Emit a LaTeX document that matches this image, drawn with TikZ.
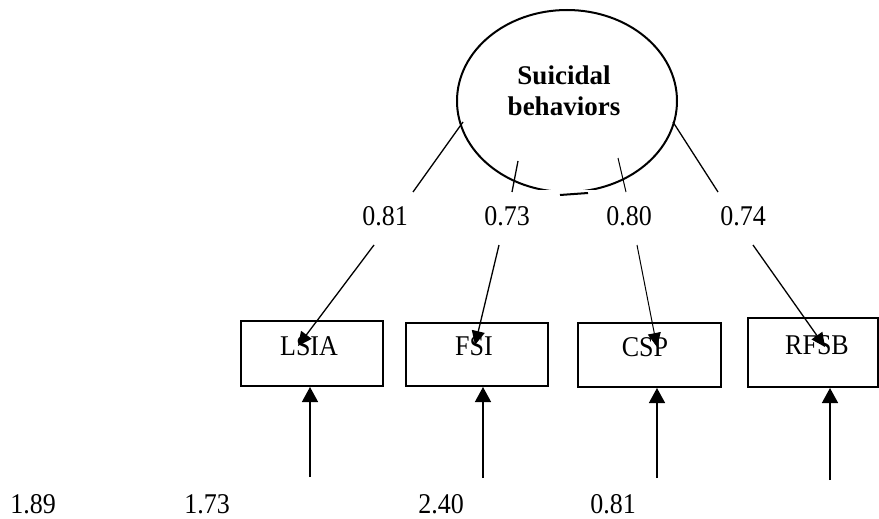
\documentclass[tikz,border=0pt]{standalone}
\usepackage{fontspec}
\setmainfont{Liberation Serif}
\usetikzlibrary{arrows.meta}
\newcommand\Tall[1]{\scalebox{1}[1.1]{#1}}

\begin{document}
\begin{tikzpicture}[x=1pt,y=-1pt,
  box/.style={draw, line width=2pt, inner sep=0pt, minimum width=142pt, minimum height=65pt},
  txt/.style={inner sep=0pt, font=\fontsize{26}{31}\selectfont},
  load/.style={line width=1.3pt},
  loadarrow/.style={line width=1.3pt, -{Triangle[length=14pt,width=13pt]}},
  errarrow/.style={line width=1.4pt, -{Triangle[length=15pt,width=16pt]}}]
\useasboundingbox (0,0) rectangle (879,519);

% latent variable
\draw [line width=2pt] (567,101) ellipse [x radius=110, y radius=91];
\node [txt, align=center, font=\fontsize{27}{31}\selectfont\bfseries] (sb) at (564,91) {Suicidal\\behaviors};

% loadings, upper parts
\coordinate (u1) at (463,122); \coordinate (v1) at (413,192);
\coordinate (u2) at (518,161); \coordinate (v2) at (512,192);
\coordinate (u3) at (618,158); \coordinate (v3) at (626,192);
\coordinate (u4) at (673,122); \coordinate (v4) at (718,192);
\draw [load] (u1) -- (v1);
\draw [load] (u2) -- (v2);
\draw [load, line width=1pt] (u3) -- (v3);
\draw [load] (u4) -- (v4);
\fill [white] (535,189.5) rectangle (597,201);
\draw [line width=2pt] (560,195) -- (588,193);

\node [txt] (k1) at (385,216) {\Tall{0.81}};
\node [txt] (k2) at (507,216) {\Tall{0.73}};
\node [txt] (k3) at (629,216) {\Tall{0.80}};
\node [txt] (k4) at (743,216) {\Tall{0.74}};

% indicators
\node [box] (lsia) at (312,353.5) {};
\node [box, minimum height=63pt] (fsi) at (477,354.5) {};
\node [box, minimum width=143pt, minimum height=64pt] (csp) at (649.5,355) {};
\node [box, minimum width=130pt, minimum height=69pt] (rfsb) at (812.5,352.5) {};
\node [txt] (lsiat) at (309,346) {\Tall{LSIA}};
\node [txt] (fsit) at (474,346) {\Tall{FSI}};
\node [txt] (cspt) at (645,347) {\Tall{CSP}};
\node [txt] (rfsbt) at (817,345) {\Tall{RFSB}};

% loadings, lower parts
\coordinate (s1) at (374,245); \coordinate (t1) at (298,346);
\coordinate (s2) at (499,245); \coordinate (t2) at (475,345);
\coordinate (s3) at (637,245); \coordinate (t3) at (657,347);
\coordinate (s4) at (753,245); \coordinate (t4) at (825,347);
\draw [loadarrow] (s1) -- (t1);
\draw [loadarrow] (s2) -- (t2);
\draw [loadarrow, line width=1pt] (s3) -- (t3);
\draw [loadarrow] (s4) -- (t4);

% errors
\coordinate (e1) at (310,477);
\coordinate (e2) at (483,478);
\coordinate (e3) at (657,478);
\coordinate (e4) at (830,480);
\draw [errarrow] (e1) -- (e1 |- lsia.south);
\draw [errarrow] (e2) -- (e2 |- fsi.south);
\draw [errarrow] (e3) -- (e3 |- csp.south);
\draw [errarrow] (e4) -- (e4 |- rfsb.south);

\node [txt] (r1) at (33,504) {\Tall{1.89}};
\node [txt] (r2) at (207,504) {\Tall{1.73}};
\node [txt] (r3) at (441,504) {\Tall{2.40}};
\node [txt] (r4) at (613,504) {\Tall{0.81}};
\end{tikzpicture}
\end{document}
